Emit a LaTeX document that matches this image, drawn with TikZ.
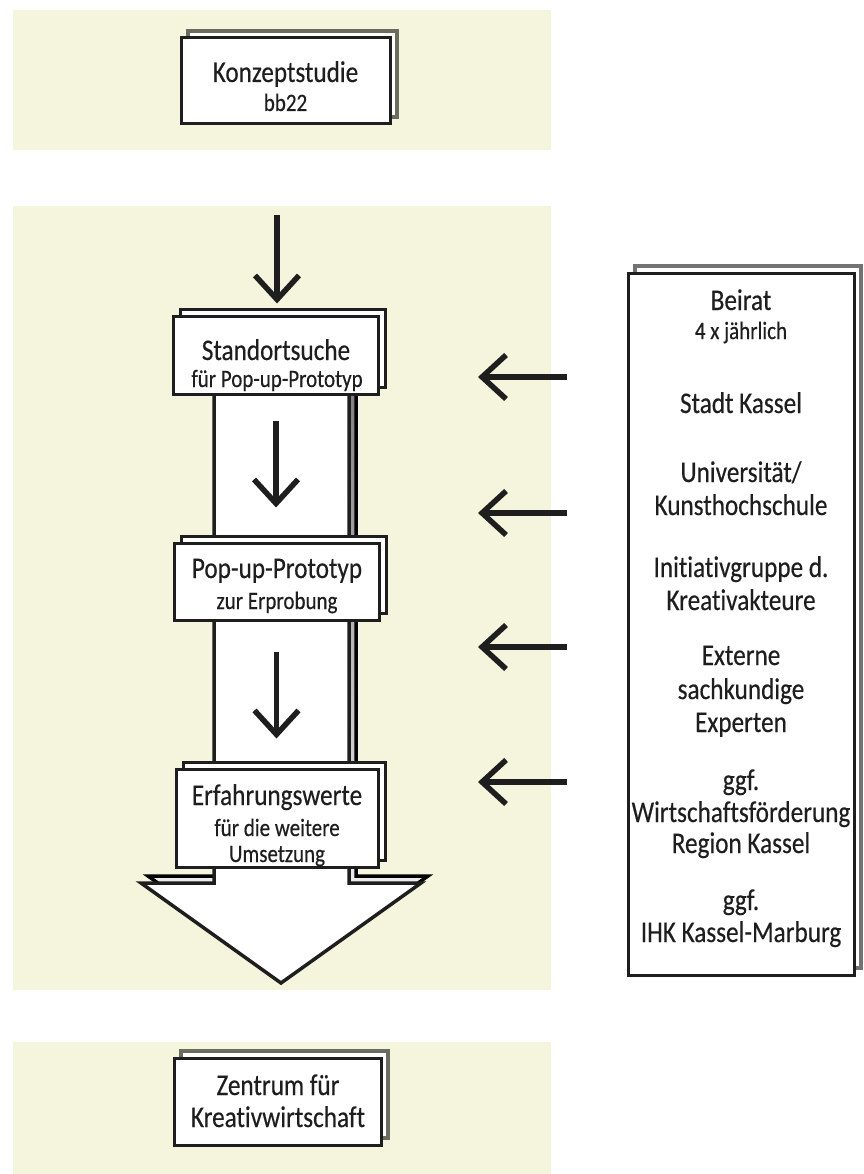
\documentclass[tikz,border=0pt]{standalone}
\usepackage{fontspec}
\setmainfont[FakeStretch=0.84, FakeBold=0.35, Ligatures=NoCommon]{Carlito}
\usetikzlibrary{arrows.meta,shadows}

\definecolor{panelbg}{RGB}{245,245,221}
\definecolor{ink}{RGB}{30,30,30}
\definecolor{shade}{RGB}{106,108,96}
\definecolor{shadeb}{RGB}{115,115,115}

\tikzset{
  card/.style={draw=ink, line width=3pt, fill=white, inner sep=0pt},
  grayshadow/.style={copy shadow={shadow xshift=7pt, shadow yshift=7pt, draw=#1, fill=white, line width=4pt}},
  grayshadow/.default=shade,
  inkshadow/.style={copy shadow={shadow xshift=7pt, shadow yshift=7pt, draw=ink, fill=white, line width=3pt}},
  big/.style={font=\fontsize{30pt}{34pt}\selectfont, text=ink, inner sep=0pt, anchor=base},
  small/.style={big, font=\fontsize{25pt}{28pt}\selectfont},
  flow/.style={draw=ink, line width=5.5pt, ->},
}

\begin{document}
\begin{tikzpicture}[x=1pt, y=-1pt, >={Straight Barb[length=24pt, width=44pt]}]
  \useasboundingbox (0,0) rectangle (863,1174);

  % --- Hintergrundflaechen ---
  \fill[panelbg] (13,10) rectangle (551,150);
  \fill[panelbg] (13,206) rectangle (551,990);
  \fill[panelbg] (13,1042) rectangle (551,1174);

  % --- grosser Pfeil (Schaft + Spitze) ---
  % Schatten zuerst
  \draw[shade, line width=3.5pt, fill=white, line join=miter, shift={(7,-7)}]
    (214,390) -- (214,883) -- (141,883) -- (281,983) -- (421,883) -- (349,883) -- (349,390);
  \draw[ink, line width=3.5pt, fill=white, line join=miter]
    (214,390) -- (214,883) -- (141,883) -- (281,983) -- (421,883) -- (349,883) -- (349,390);

  % --- Kaesten ---
  \node[card, grayshadow, minimum width=209pt, minimum height=86pt] (konzept) at (285.5,81) {};
  \node[card, inkshadow, minimum width=205pt, minimum height=78pt] (stand) at (276,355) {};
  \node[card, inkshadow, minimum width=205pt, minimum height=77pt] (popup) at (276.5,581.5) {};
  \node[card, inkshadow, minimum width=202pt, minimum height=98pt] (erfahr) at (277,818) {};
  \node[card, grayshadow, minimum width=207pt, minimum height=87pt] (zentrum) at (277.5,1101.5) {};
  \node[card, grayshadow=shadeb, minimum width=226pt, minimum height=702pt] (beirat) at (741,624) {};

  % --- Texte ---
  \node[big] (konzeptA) at (285.5,82) {Konzeptstudie};
  \node[small] (konzeptB) at (285.5,111) {bb22};
  \node[big] (standA) at (276,360) {Standortsuche};
  \node[small] (standB) at (277,387) {für Pop-up-Prototyp};
  \node[big] (popupA) at (277,578) {Pop-up-Prototyp};
  \node[small] (popupB) at (277,609) {zur Erprobung};
  \node[big] (erfahrA) at (277,805) {Erfahrungswerte};
  \node[small] (erfahrB) at (277,836) {für die weitere};
  \node[small] (erfahrC) at (277,862) {Umsetzung};
  \node[big] (zentrumA) at (278,1095) {Zentrum für};
  \node[big] (zentrumB) at (278,1127) {Kreativwirtschaft};

  % Beirat
  \node[big] (beiratA) at (741,310) {Beirat};
  \node[small] (beiratB) at (741,339) {4 x jährlich};
  \foreach \yy/\txt [count=\i] in {413/{Stadt Kassel}, 482/{Universität/}, 515/{Kunsthochschule},
      577/{Initiativgruppe d.}, 610/{Kreativakteure}, 665/{Externe}, 699/{sachkundige},
      732/{Experten}, 790/{ggf.}, 822/{Wirtschaftsförderung}, 853/{Region Kassel},
      910/{ggf.}, 942/{IHK Kassel-Marburg}}
    \node[big] (mitglied\i) at (741,\yy) {\txt};

  % --- Pfeile ---
  \coordinate (start) at (277,215);
  \draw[flow, shorten >=11pt] (start) -- (start |- stand.north);
  \draw[flow, shorten <=25pt, shorten >=34pt] (stand.south) -- (stand.south |- popup.north);
  \draw[flow, shorten <=30pt, shorten >=29pt] (popup.south) -- (popup.south |- erfahr.north);

  % Pfeile vom Beirat
  \foreach \yy [count=\i] in {377, 513, 647, 782} {
    \coordinate (ziel\i) at (478,\yy);
    \draw[flow, shorten <=60pt] (beirat.west |- ziel\i) -- (ziel\i);
  }
\end{tikzpicture}
\end{document}
